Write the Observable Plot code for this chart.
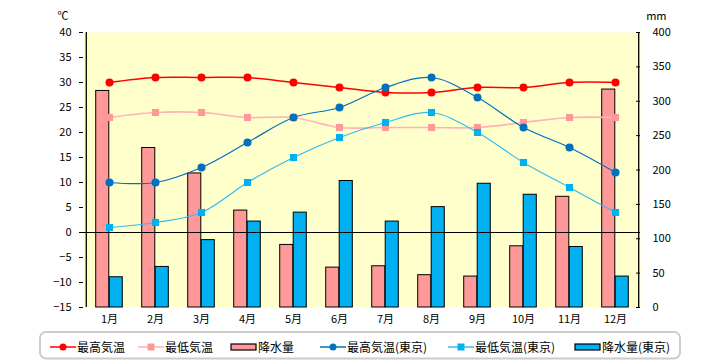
<!DOCTYPE html>
<html><head><meta charset="utf-8">
<script src="https://cdn.jsdelivr.net/npm/d3@7"></script>
<script src="https://cdn.jsdelivr.net/npm/@observablehq/plot@0.6"></script>
<style>
body{margin:0;background:#fff;font-family:"Noto Sans CJK JP",sans-serif;}
#chart svg{display:block;}
#legend svg{display:block;}
</style></head>
<body><div id="chart"></div><div id="legend"></div>
<script>
const months = ["1月","2月","3月","4月","5月","6月","7月","8月","9月","10月","11月","12月"];
const maxTemp = [30,31,31,31,30,29,28,28,29,29,30,30];
const minTemp = [23,24,24,23,23,21,21,21,21,22,23,23];
const precip = [315,232,195,141,91,58,60,47,45,89,161,317];
const tokyoMax = [10,10,13,18,23,25,29,31,27,21,17,12];
const tokyoMin = [1,2,4,10,15,19,22,24,20,14,9,4];
const tokyoPrecip = [44,59,98,125,138,184,125,146,180,164,88,45];
const tempTicks = [-15,-10,-5,0,5,10,15,20,25,30,35,40];
const mmTicks = [0,50,100,150,200,250,300,350,400];
const legendLabels = ["最高気温","最低気温","降水量","最高気温(東京)","最低気温(東京)","降水量(東京)"];

const W = 720, H = 330, mL = 83, mR = 80, mT = 32, mB = 23;
const band = (W - mL - mR) / months.length;
const barW = 13.5;
// mm -> °C axis mapping (0mm at -15°C, 400mm at 40°C)
const toT = mm => mm * 55 / 400 - 15;
const toMM = t => (t + 15) * 400 / 55;

const rows = months.map((m, i) => ({
  month: m, maxT: maxTemp[i], minT: minTemp[i], p: precip[i],
  tMax: tokyoMax[i], tMin: tokyoMin[i], tp: tokyoPrecip[i]
}));

const font = "Noto Sans CJK JP";
const plot = Plot.plot({
  width: W, height: H,
  marginLeft: mL, marginRight: mR, marginTop: mT, marginBottom: mB,
  style: {fontFamily: font, fontSize: "11px", color: "#000", background: "#fff"},
  x: {type: "band", domain: months, padding: 0, axis: null, label: null},
  y: {domain: [-15, 40], axis: null, label: null},
  marks: [
    Plot.frame({fill: "#ffffcc"}),
    Plot.barY(rows, {x: "month", y1: () => -15, y2: d => toT(d.p), fill: "#ff9999", stroke: "#000", strokeWidth: 1,
      insetLeft: band / 2 - barW, insetRight: band / 2}),
    Plot.barY(rows, {x: "month", y1: () => -15, y2: d => toT(d.tp), fill: "#00b0f0", stroke: "#000", strokeWidth: 1,
      insetLeft: band / 2, insetRight: band / 2 - barW}),
    Plot.ruleY([0], {stroke: "#000", strokeWidth: 1.2}),
    Plot.line(rows, {x: "month", y: "minT", stroke: "#ffb3b3", strokeWidth: 1.6, curve: "catmull-rom"}),
    Plot.dot(rows, {x: "month", y: "minT", symbol: "square", r: 4, fill: "#ff9999", stroke: null}),
    Plot.line(rows, {x: "month", y: "maxT", stroke: "#ff0000", strokeWidth: 1.5, curve: "catmull-rom"}),
    Plot.dot(rows, {x: "month", y: "maxT", r: 4, fill: "#ff0000", stroke: null}),
    Plot.line(rows, {x: "month", y: "tMax", stroke: "#0070c0", strokeWidth: 1.2, curve: "catmull-rom"}),
    Plot.dot(rows, {x: "month", y: "tMax", r: 4, fill: "#0070c0", stroke: null}),
    Plot.line(rows, {x: "month", y: "tMin", stroke: "#33bbf0", strokeWidth: 1.2, curve: "catmull-rom"}),
    Plot.dot(rows, {x: "month", y: "tMin", symbol: "square", r: 4, fill: "#00b0f0", stroke: null}),
    Plot.ruleX([months[0]], {dx: -band / 2, stroke: "#000", strokeWidth: 1.3}),
    Plot.ruleX([months[months.length - 1]], {dx: band / 2, stroke: "#000", strokeWidth: 1.3}),
    Plot.tickY(mmTicks.map(toT), {y: d => d, stroke: "#000", insetLeft: W - mL - mR - 4}),
    Plot.axisY({anchor: "left", ticks: tempTicks, label: null, tickSize: 4, tickPadding: 8, fontSize: 11, fontFamily: font}),
    Plot.axisY({anchor: "right", ticks: mmTicks.map(toT), label: null, tickFormat: t => Math.round(toMM(t)), tickSize: 0, tickPadding: 12, fontSize: 11, fontFamily: font}),
    Plot.axisX({anchor: "bottom", label: null, tickSize: 0, tickPadding: 8, fontSize: 11, fontFamily: font}),
    Plot.text(["℃"], {frameAnchor: "top-left", dx: -26, dy: -20, fontSize: 11, fontFamily: font}),
    Plot.text(["mm"], {frameAnchor: "top-right", dx: 26, dy: -20, fontSize: 11, fontFamily: font})
  ]
});
document.getElementById("chart").appendChild(plot);

// Legend
const lg = d3.select("#legend").append("svg").attr("width", W).attr("height", 30)
  .style("font-family", font).style("font-size", "12px");
lg.append("rect").attr("x", 40).attr("y", 2).attr("width", 640).attr("height", 26.5)
  .attr("rx", 6).attr("fill", "#fff").attr("stroke", "#cccccc").attr("stroke-width", 2);
const items = [
  {kind: "line", color: "#ff0000", line: "#ff0000", sym: "circle", x: 50},
  {kind: "line", color: "#ff9999", line: "#ffb3b3", sym: "square", x: 138},
  {kind: "bar", color: "#ff9999", x: 231},
  {kind: "line", color: "#0070c0", line: "#0070c0", sym: "circle", x: 320},
  {kind: "line", color: "#00b0f0", line: "#33bbf0", sym: "square", x: 448},
  {kind: "bar", color: "#00b0f0", x: 575}
];
const cy = 17;
items.forEach((it, i) => {
  const g = lg.append("g");
  if (it.kind === "line") {
    g.append("line").attr("x1", it.x).attr("x2", it.x + 26).attr("y1", cy).attr("y2", cy)
      .attr("stroke", it.line).attr("stroke-width", 1.5);
    if (it.sym === "circle") g.append("circle").attr("cx", it.x + 13).attr("cy", cy).attr("r", 3.5).attr("fill", it.color);
    else g.append("rect").attr("x", it.x + 9.5).attr("y", cy - 3.5).attr("width", 7).attr("height", 7).attr("fill", it.color);
  } else {
    g.append("rect").attr("x", it.x).attr("y", cy - 3).attr("width", 25).attr("height", 6)
      .attr("fill", it.color).attr("stroke", "#000").attr("stroke-width", 1.2);
  }
  g.append("text").attr("x", it.x + 27).attr("y", cy + 4.5).attr("fill", "#000").text(legendLabels[i]);
});
</script></body></html>
